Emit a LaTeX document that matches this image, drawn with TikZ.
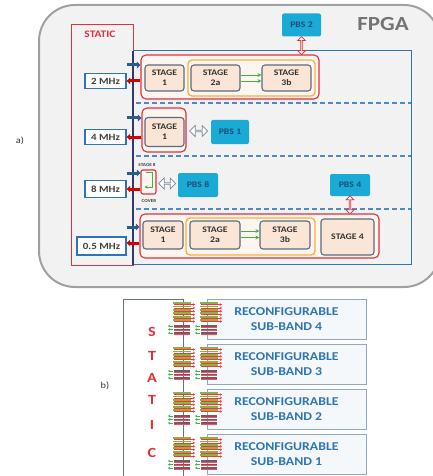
\documentclass[tikz,border=0pt]{standalone}
\usepackage{fontspec}
\setmainfont{Carlito}[FakeStretch=1.15]
\usetikzlibrary{arrows.meta,positioning,shapes.arrows,calc,shadows}
\definecolor{fpgagray}{HTML}{F2F2F2}
\definecolor{framegray}{HTML}{A0A0A0}
\definecolor{staticred}{HTML}{E0303A}
\definecolor{regionblue}{HTML}{2E75B6}
\definecolor{spinenavy}{HTML}{2F3A6B}
\definecolor{stagefill}{HTML}{FBE5D6}
\definecolor{stageedge}{HTML}{5B6B7C}
\definecolor{groupfill}{HTML}{FDF5EF}
\definecolor{orangeedge}{HTML}{F5B041}
\definecolor{pbscyan}{HTML}{19AAD5}
\definecolor{pbstext}{HTML}{1F4E79}
\definecolor{flowgreen}{HTML}{3CB44B}
\definecolor{busgreen}{HTML}{8CB04A}
\definecolor{busdark}{HTML}{6E5A6A}
\definecolor{bandedge}{HTML}{8EA9C1}
\definecolor{bandfill}{HTML}{F5F8FA}
\tikzset{
  freqnode/.style={
    rectangle, draw=regionblue, line width=1.4pt, fill=white,
    minimum width=41pt, minimum height=15pt, inner sep=0pt,
    font=\fontsize{9.5}{10}\selectfont\bfseries, text=black!75
  },
  stagenode/.style={
    rectangle, rounded corners=3pt, draw=stageedge, line width=1.1pt,
    fill=stagefill, align=center, inner sep=0pt,
    font=\fontsize{8.5}{10}\selectfont\bfseries, text=black!80
  },
  groupbox/.style={
    rectangle, rounded corners=5pt, draw=staticred, line width=1.1pt,
    fill=groupfill, inner sep=0pt
  },
  pipebox/.style={
    rectangle, rounded corners=4pt, draw=orangeedge, line width=1.3pt,
    fill=groupfill, inner sep=0pt
  },
  pbsnode/.style={
    rectangle, rounded corners=2pt, fill=pbscyan, inner sep=0pt,
    font=\fontsize{8.5}{9}\selectfont\bfseries, text=pbstext
  },
  swaparrow/.style={
    double arrow, draw=stageedge!80, fill=white, line width=0.8pt,
    minimum height=18pt, minimum width=11pt,
    double arrow head extend=2.5pt, inner sep=0pt
  },
  loadarrow/.style={
    double arrow, draw=staticred, fill=white, line width=0.8pt,
    minimum height=18pt, minimum width=8pt,
    double arrow head extend=1.5pt, inner sep=0pt, rotate=90
  },
  inarr/.style={line width=3pt, draw=regionblue!80!black, -{Triangle[length=3.5pt,width=6.5pt]}},
  outarr/.style={line width=3pt, draw=red!85!black, -{Triangle[length=3.5pt,width=6.5pt]}},
  flow/.style={draw=flowgreen, line width=0.8pt, -{Stealth[length=4pt,width=4pt]}},
  bandnode/.style={
    rectangle, draw=bandedge, line width=0.8pt, fill=bandfill,
    minimum width=159pt, minimum height=40pt, align=center,
    font=\fontsize{12}{15}\selectfont\bfseries, text=regionblue,
    drop shadow={shadow xshift=1pt, shadow yshift=-1pt, opacity=.35}
  },
  tinylabel/.style={font=\fontsize{4.5}{5}\selectfont\bfseries, text=black!75, inner sep=0pt}
}
% one column of the static bus next to a sub-band
\newcommand\busrow[2]{%
  \foreach \k in {0,...,5}{
    \draw[busgreen, line width=1.8pt] (#1,#2+4+3.4*\k) -- (#1+18,#2+4+3.4*\k);
    \draw[red!80, line width=0.5pt, -{Stealth[length=2pt,width=2.5pt]}]
      (#1+1,#2+5.5+3.4*\k) -- (#1+22,#2+5.5+3.4*\k);
  }
  \foreach \k in {0,...,2}{
    \draw[busdark, line width=2pt] (#1+1,#2+27+3.5*\k) -- (#1+17,#2+27+3.5*\k);
    \draw[red!70, line width=0.4pt] (#1+1,#2+28+3.5*\k) -- (#1+17,#2+28+3.5*\k);
    \draw[flowgreen, line width=0.6pt, -{Stealth[length=2pt,width=2.5pt]}]
      (#1,#2+27+3.5*\k) -- (#1-5,#2+27+3.5*\k);
  }
}

\begin{document}
\begin{tikzpicture}[x=1pt,y=-1pt]
\useasboundingbox (0,0) rectangle (433,476);

% a) FPGA
\draw[framegray, line width=2pt, fill=fpgagray, rounded corners=36pt] (39,5) rectangle (440,287);
\node[font=\fontsize{20}{22}\selectfont\bfseries, text=black!55] (fpga) at (383,24) {FPGA};
\node[font=\fontsize{9}{10}\selectfont, text=black!80] (parta) at (20,141) {a)};

% static and reconfigurable areas
\draw[staticred, line width=0.9pt] (71,24) rectangle (133,265);
\node[font=\fontsize{10}{11}\selectfont\bfseries, text=staticred] (statlbl) at (100,34) {STATIC};
\draw[regionblue, line width=1pt] (133,51) rectangle (411,264);
\foreach \yy in {103,156,209}
  \draw[regionblue!85, line width=1.1pt, dash pattern=on 5pt off 3pt] (136,\yy) -- (411,\yy);
\draw[spinenavy, line width=1.4pt] (133,51) -- (133,265);

% 2 MHz
\node[freqnode] (f2) at (105.5,81) {2 MHz};
\node[groupbox, minimum width=178pt, minimum height=44pt] (grp1) at (230,77) {};
\node[pipebox, minimum width=127pt, minimum height=36pt] (pipe1) at (251.5,78) {};
\node[stagenode, minimum width=39pt, minimum height=26pt] (s1a) at (164.5,78) {STAGE\\1};
\node[stagenode, minimum width=49pt, minimum height=26pt] (s2a) at (215.5,78) {STAGE\\2a};
\node[stagenode, minimum width=49pt, minimum height=26pt] (s3a) at (286.5,78) {STAGE\\3b};
\draw[flow] ([yshift=3]s2a.east) -- ([yshift=3]s3a.west);
\draw[flow] ([yshift=-3]s2a.east) -- ([yshift=-3]s3a.west);
\node[pbsnode, minimum width=39pt, minimum height=23pt] (pbs2) at (301.5,25) {PBS 2};
\node[loadarrow] (ld2) at ($(pbs2.south)!0.5!(pbs2.south |- grp1.north)$) {};
\draw[inarr] ([yshift=16]f2.east) -- ([yshift=16]f2.east -| grp1.west);
\draw[outarr] (f2.east -| grp1.west) -- (f2.east);

% 4 MHz
\node[freqnode] (f4) at (105.5,137) {4 MHz};
\node[groupbox, minimum width=44pt, minimum height=44pt] (grp2) at (164,130) {};
\node[stagenode, minimum width=39pt, minimum height=29pt] (s1b) at (164.5,132) {STAGE\\1};
\node[pbsnode, minimum width=38pt, minimum height=24pt] (pbs1) at (230,132) {PBS 1};
\node[swaparrow] (sw1) at ($(grp2.east)!0.5!(pbs1.west)$) {};
\draw[inarr] ([yshift=19]f4.east) -- ([yshift=19]f4.east -| grp2.west);
\draw[outarr] (f4.east -| grp2.west) -- (f4.east);

% 8 MHz
\node[freqnode, minimum height=17pt] (f8) at (105.5,189) {8 MHz};
\node[groupbox, rounded corners=2pt, minimum width=15pt, minimum height=24pt] (cov) at (148.5,182) {};
\node[tinylabel] (covtop) at (147,165) {STAGE 8};
\node[tinylabel] (covbot) at (149,201) {COVER};
\draw[flowgreen, line width=0.8pt, -{Stealth[length=3pt,width=3pt]}]
  (146,172) -- (152,172) -- (152,187) -- (144.5,187);
\node[pbsnode, minimum width=40pt, minimum height=24pt] (pbs8) at (198,185) {PBS 8};
\node[swaparrow, minimum height=17pt] (sw8) at ($(cov.east)!0.5!(pbs8.west)$) {};
\node[pbsnode, minimum width=40pt, minimum height=22pt] (pbs4) at (350,185) {PBS 4};
\draw[inarr] ([yshift=16]f8.east) -- ([yshift=16]f8.east -| cov.west);
\draw[outarr] (f8.east -| cov.west) -- (f8.east);

% 0.5 MHz
\node[freqnode, minimum width=49pt, minimum height=18pt] (f05) at (101.5,246) {0.5 MHz};
\node[groupbox, minimum width=239pt, minimum height=44pt] (grp4) at (259.5,236) {};
\node[pipebox, minimum width=129pt, minimum height=37pt] (pipe4) at (250.5,236.5) {};
\node[stagenode, minimum width=40pt, minimum height=28pt] (s1c) at (163,235) {STAGE\\1};
\node[stagenode, minimum width=50pt, minimum height=28pt] (s2c) at (215,235) {STAGE\\2a};
\node[stagenode, minimum width=50pt, minimum height=28pt] (s3c) at (285,235) {STAGE\\3b};
\node[stagenode, minimum width=53pt, minimum height=36pt] (s4c) at (347.5,237) {STAGE 4};
\draw[flow] ([yshift=4]s2c.east) -- ([yshift=4]s3c.west);
\draw[flow] ([yshift=-2.5]s2c.east) -- ([yshift=-2.5]s3c.west);
\node[loadarrow] (ld4) at ($(pbs4.south)!0.5!(pbs4.south |- grp4.north)$) {};
\draw[inarr] ([yshift=19]f05.east) -- ([yshift=19]f05.east -| grp4.west);
\draw[outarr] ([yshift=3]f05.east -| grp4.west) -- ([yshift=3]f05.east);

% b) static bus and sub-bands
\node[font=\fontsize{9}{10}\selectfont, text=black!80] (partb) at (105,386) {b)};
\draw[bandedge!70!black, line width=0.8pt] (183,299) -- (123,299) -- (123,480);
\draw[bandedge!70!black, line width=0.8pt] (183,299) -- (183,480);
\foreach \n/\yy in {4/299,3/344,2/389,1/434}{
  \node[bandnode] (band\n) at (286.5,\yy+20) {RECONFIGURABLE\\SUB-BAND \n};
  \busrow{173}{\yy}
  \busrow{200}{\yy}
}
\foreach \ch/\yy in {S/332,T/356,A/378,T/400,I/425,C/453}
  \node[font=\fontsize{14}{15}\selectfont\bfseries, text=staticred] (let\yy) at (152,\yy) {\ch};

\end{tikzpicture}
\end{document}
